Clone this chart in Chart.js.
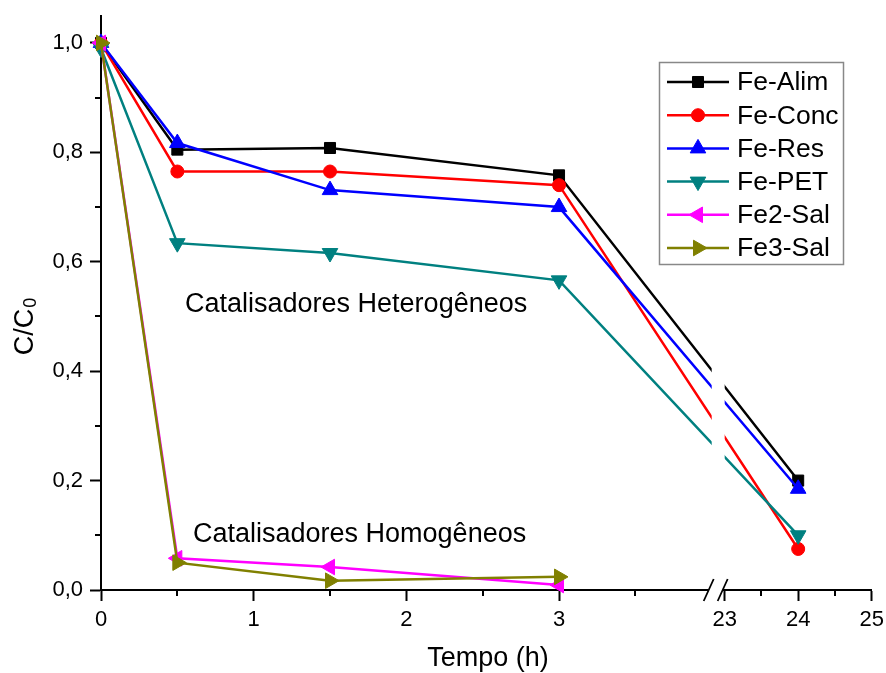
<!DOCTYPE html>
<html>
<head>
<meta charset="utf-8">
<script src="https://cdn.jsdelivr.net/npm/chart.js@4"></script>
<style>
  body { margin: 0; background: #fff; }
  canvas { display: block; }
</style>
</head>
<body>
<canvas id="chart" width="886" height="673"></canvas>
<script>
// C/C0 over time for each catalyst
const seriesNames = ["Fe-Alim", "Fe-Conc", "Fe-Res", "Fe-PET", "Fe2-Sal", "Fe3-Sal"];
const timeHet = [0, 0.5, 1.5, 3, 24];
const timeHom = [0, 0.5, 1.5, 3];
const feAlim = [1.0, 0.805, 0.808, 0.758, 0.200];
const feConc = [1.0, 0.765, 0.765, 0.740, 0.075];
const feRes  = [1.0, 0.817, 0.731, 0.700, 0.185];
const fePet  = [0.99, 0.634, 0.616, 0.566, 0.100];
const fe2Sal = [1.0, 0.058, 0.042, 0.009];
const fe3Sal = [1.0, 0.050, 0.017, 0.024];

const xMajorTicks = [0, 1, 2, 3, 23, 24, 25];
const xMinorTicks = [0.5, 1.5, 2.5, 3.5, 23.5, 24.5];
const yMajorTicks = [0, 0.2, 0.4, 0.6, 0.8, 1.0];
const yMinorTicks = [0.1, 0.3, 0.5, 0.7, 0.9];

// broken time axis: 0-4 h at full scale, then 23-25 h compressed
const BREAK_START = 4, BREAK_END = 23, BREAK_GAP = 0.085, RIGHT_SCALE = 0.4815;
function toAxis(t) {
    return t <= BREAK_START ? t : BREAK_START + BREAK_GAP + (t - BREAK_END) * RIGHT_SCALE;
}

const FONT = "'Liberation Sans', Arial, sans-serif";
Chart.defaults.font.family = FONT;
Chart.defaults.color = "#000";

const styles = [
    { color: "#000000", pointStyle: "rect", radius: 7.8, rotation: 0 },
    { color: "#ff0000", pointStyle: "circle", radius: 6.5, rotation: 0 },
    { color: "#0000ff", pointStyle: "triangle", radius: 9, rotation: 0 },
    { color: "#008080", pointStyle: "triangle", radius: 9, rotation: 180 },
    { color: "#ff00ff", pointStyle: "triangle", radius: 9, rotation: 270 },
    { color: "#808000", pointStyle: "triangle", radius: 9, rotation: 90 }
];
const seriesValues = [feAlim, feConc, feRes, fePet, fe2Sal, fe3Sal];
const seriesTimes = [timeHet, timeHet, timeHet, timeHet, timeHom, timeHom];

const datasets = seriesNames.map((name, i) => ({
    label: name,
    data: seriesTimes[i].map((t, j) => ({ x: toAxis(t), y: seriesValues[i][j] })),
    borderColor: styles[i].color,
    backgroundColor: styles[i].color,
    borderWidth: 2.5,
    tension: 0,
    pointStyle: styles[i].pointStyle,
    pointRadius: styles[i].radius,
    pointRotation: styles[i].rotation,
    pointBackgroundColor: styles[i].color,
    pointBorderColor: styles[i].color,
    pointBorderWidth: 1,
    clip: false,
    order: seriesNames.length - i
}));

// keep the plot box fixed, no extra room for edge labels
function fixBox(s) {
    s.paddingTop = 0; s.paddingBottom = 0; s.paddingLeft = 0; s.paddingRight = 0;
}

const decor = {
    id: "decor",
    afterDatasetsDraw(chart) {
        // cut the lines where the time axis is broken
        const { ctx, chartArea, scales: { x } } = chart;
        const a = x.getPixelForValue(toAxis(BREAK_START));
        const b = x.getPixelForValue(toAxis(BREAK_END));
        ctx.save();
        ctx.fillStyle = "#fff";
        ctx.fillRect(a, chartArea.top, b - a, chartArea.bottom - chartArea.top - 2);
        ctx.restore();
    },
    afterDraw(chart) {
        const { ctx, chartArea, scales: { x, y } } = chart;
        ctx.save();
        ctx.strokeStyle = "#000";
        ctx.lineWidth = 2;

        // minor ticks
        ctx.beginPath();
        xMinorTicks.forEach(t => {
            const px = Math.round(x.getPixelForValue(toAxis(t)));
            ctx.moveTo(px, chartArea.bottom);
            ctx.lineTo(px, chartArea.bottom + 6);
        });
        yMinorTicks.forEach(v => {
            const py = Math.round(y.getPixelForValue(v));
            ctx.moveTo(chartArea.left, py);
            ctx.lineTo(chartArea.left - 6, py);
        });
        ctx.stroke();

        // axis break marks
        const a = x.getPixelForValue(toAxis(BREAK_START)) - 3;
        const b = x.getPixelForValue(toAxis(BREAK_END)) - 2;
        const yb = chartArea.bottom;
        ctx.fillStyle = "#fff";
        ctx.fillRect(a, yb - 3, b - a, 6);
        ctx.lineWidth = 1.8;
        ctx.beginPath();
        [a, b].forEach(cx => {
            ctx.moveTo(cx - 5, yb + 11);
            ctx.lineTo(cx + 5, yb - 11);
        });
        ctx.stroke();

        // group labels
        ctx.fillStyle = "#000";
        ctx.font = "27px " + FONT;
        ctx.textAlign = "left";
        ctx.textBaseline = "alphabetic";
        ctx.fillText("Catalisadores Heterogêneos", 185, 312);
        ctx.fillText("Catalisadores Homogêneos", 193, 542);

        // axis titles
        ctx.font = "27px " + FONT;
        ctx.textAlign = "center";
        ctx.textBaseline = "middle";
        ctx.fillText("Tempo (h)", 488, 659);

        ctx.save();
        ctx.translate(24, 327);
        ctx.rotate(-Math.PI / 2);
        ctx.textAlign = "left";
        ctx.textBaseline = "alphabetic";
        ctx.font = "27px " + FONT;
        const w = ctx.measureText("C/C").width;
        ctx.font = "18px " + FONT;
        const w0 = ctx.measureText("0").width;
        const start = -(w + w0) / 2;
        ctx.font = "27px " + FONT;
        ctx.fillText("C/C", start, 9);
        ctx.font = "18px " + FONT;
        ctx.fillText("0", start + w + 1, 12);
        ctx.restore();

        // legend
        ctx.strokeStyle = "#888";
        ctx.lineWidth = 1.5;
        ctx.strokeRect(659.5, 62.5, 184, 202);
        ctx.font = "26.5px " + FONT;
        ctx.textAlign = "left";
        ctx.textBaseline = "middle";
        seriesNames.forEach((name, i) => {
            const ly = 82 + i * 33.2;
            const s = styles[i];
            ctx.strokeStyle = s.color;
            ctx.fillStyle = s.color;
            ctx.lineWidth = 2.5;
            ctx.beginPath();
            ctx.moveTo(667, ly);
            ctx.lineTo(729, ly);
            ctx.stroke();
            ctx.lineWidth = 1;
            Chart.helpers.drawPoint(ctx, {
                pointStyle: s.pointStyle, radius: s.radius, rotation: s.rotation, borderWidth: 1
            }, 698, ly);
            ctx.fillStyle = "#000";
            ctx.fillText(name, 737, ly + 1);
        });
        ctx.restore();
    }
};

new Chart(document.getElementById("chart"), {
    type: "line",
    data: { datasets },
    options: {
        responsive: false,
        animation: false,
        layout: { padding: { top: 15.6, right: 14.3, left: 0, bottom: 0 } },
        plugins: { legend: { display: false }, tooltip: { enabled: false } },
        scales: {
            x: {
                type: "linear",
                min: 0,
                max: toAxis(25),
                afterFit: s => { s.height = 83; fixBox(s); },
                afterBuildTicks: s => { s.ticks = xMajorTicks.map(t => ({ value: toAxis(t) })); },
                grid: { drawOnChartArea: false, drawTicks: true, tickLength: 11, tickColor: "#000", tickWidth: 2 },
                border: { display: true, color: "#000", width: 2 },
                ticks: {
                    autoSkip: false,
                    maxRotation: 0,
                    padding: 6,
                    font: { size: 22 },
                    color: "#000",
                    callback: (v, i) => String(xMajorTicks[i])
                }
            },
            y: {
                min: 0,
                max: 1.05,
                afterFit: s => { s.width = 101; fixBox(s); },
                afterBuildTicks: s => { s.ticks = yMajorTicks.map(v => ({ value: v })); },
                grid: { drawOnChartArea: false, drawTicks: true, tickLength: 11, tickColor: "#000", tickWidth: 2 },
                border: { display: true, color: "#000", width: 2 },
                ticks: {
                    padding: 7,
                    font: { size: 22 },
                    color: "#000",
                    callback: v => v.toFixed(1).replace(".", ",")
                }
            }
        }
    },
    plugins: [decor]
});
</script>
</body>
</html>
